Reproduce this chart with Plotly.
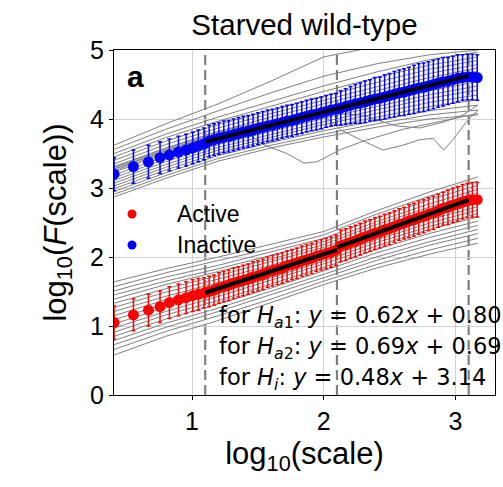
import plotly.graph_objects as go

# ---------------- data ----------------
x_scale = [0.408, 0.555, 0.669, 0.757, 0.828, 0.897, 0.955, 1.005, 1.048, 1.091,
           1.130, 1.167, 1.204, 1.241, 1.278, 1.315, 1.352, 1.389, 1.426, 1.463,
           1.500, 1.537, 1.574, 1.611, 1.648, 1.685, 1.722, 1.759, 1.796, 1.833,
           1.870, 1.907, 1.944, 1.981, 2.018, 2.055, 2.092, 2.129, 2.166, 2.203,
           2.240, 2.277, 2.314, 2.351, 2.388, 2.425, 2.462, 2.499, 2.536, 2.573,
           2.610, 2.647, 2.684, 2.721, 2.758, 2.795, 2.832, 2.869, 2.906, 2.943,
           2.980, 3.017, 3.054, 3.091, 3.128, 3.165]

inactive_mean = [3.20, 3.31, 3.38, 3.44, 3.48, 3.52, 3.55, 3.58, 3.61, 3.64,
                 3.68, 3.70, 3.72, 3.74, 3.75, 3.77, 3.79, 3.81, 3.82, 3.84,
                 3.86, 3.88, 3.90, 3.91, 3.93, 3.95, 3.97, 3.98, 4.00, 4.02,
                 4.04, 4.06, 4.07, 4.09, 4.11, 4.13, 4.14, 4.16, 4.18, 4.20,
                 4.22, 4.23, 4.25, 4.27, 4.29, 4.30, 4.32, 4.34, 4.36, 4.38,
                 4.39, 4.41, 4.43, 4.45, 4.46, 4.48, 4.50, 4.52, 4.54, 4.55,
                 4.57, 4.59, 4.60, 4.61, 4.61, 4.60]
inactive_err = [0.24, 0.24, 0.24, 0.23, 0.23, 0.23, 0.23, 0.23, 0.23, 0.23,
                0.23, 0.23, 0.23, 0.23, 0.23, 0.23, 0.23, 0.23, 0.23, 0.23,
                0.23, 0.23, 0.23, 0.23, 0.23, 0.23, 0.23, 0.23, 0.23, 0.23,
                0.23, 0.23, 0.23, 0.23, 0.23, 0.23, 0.23, 0.25, 0.26, 0.27,
                0.28, 0.29, 0.30, 0.30, 0.31, 0.31, 0.32, 0.32, 0.33, 0.33,
                0.34, 0.34, 0.35, 0.35, 0.35, 0.35, 0.35, 0.35, 0.35, 0.34,
                0.34, 0.34, 0.33, 0.33, 0.33, 0.33]

active_mean = [1.05, 1.16, 1.23, 1.28, 1.34, 1.38, 1.41, 1.44, 1.46, 1.48,
               1.50, 1.52, 1.55, 1.57, 1.59, 1.62, 1.64, 1.66, 1.68, 1.71,
               1.73, 1.75, 1.78, 1.80, 1.82, 1.84, 1.87, 1.89, 1.91, 1.94,
               1.96, 1.98, 2.01, 2.03, 2.05, 2.07, 2.10, 2.16, 2.18, 2.21,
               2.23, 2.26, 2.29, 2.31, 2.34, 2.36, 2.39, 2.41, 2.44, 2.47,
               2.49, 2.52, 2.54, 2.57, 2.59, 2.62, 2.64, 2.67, 2.70, 2.72,
               2.75, 2.77, 2.80, 2.82, 2.83, 2.83]
active_err = [0.24, 0.23, 0.23, 0.23, 0.23, 0.23, 0.23, 0.23, 0.23, 0.22,
              0.22, 0.22, 0.22, 0.22, 0.22, 0.22, 0.22, 0.22, 0.22, 0.22,
              0.22, 0.22, 0.22, 0.22, 0.22, 0.22, 0.22, 0.22, 0.22, 0.22,
              0.22, 0.22, 0.22, 0.22, 0.22, 0.22, 0.22, 0.23, 0.23, 0.23,
              0.23, 0.23, 0.23, 0.23, 0.23, 0.23, 0.23, 0.23, 0.23, 0.23,
              0.23, 0.24, 0.24, 0.24, 0.24, 0.24, 0.24, 0.24, 0.24, 0.25,
              0.25, 0.25, 0.25, 0.25, 0.25, 0.25]

# individual recordings (grey curves)
gray_x = [0.408, 0.8, 1.2, 1.6, 2.0, 2.4, 2.8, 3.17]
active_curves = [
    [1.64, 1.83, 2.00, 2.18, 2.37, 2.67, 2.94, 3.16],
    [1.57, 1.77, 1.95, 2.12, 2.32, 2.62, 2.88, 3.10],
    [1.51, 1.71, 1.88, 2.08, 2.27, 2.56, 2.83, 3.04],
    [1.45, 1.65, 1.83, 2.02, 2.22, 2.51, 2.77, 2.98],
    [1.39, 1.60, 1.79, 1.97, 2.18, 2.47, 2.72, 2.93],
    [1.33, 1.54, 1.73, 1.93, 2.14, 2.43, 2.68, 2.88],
    [1.27, 1.49, 1.68, 1.88, 2.10, 2.38, 2.63, 2.83],
    [1.21, 1.43, 1.63, 1.85, 2.06, 2.34, 2.58, 2.78],
    [1.15, 1.38, 1.58, 1.79, 2.02, 2.29, 2.54, 2.73],
    [1.09, 1.32, 1.54, 1.75, 1.98, 2.25, 2.49, 2.68],
    [1.03, 1.27, 1.48, 1.70, 1.94, 2.21, 2.44, 2.63],
    [0.97, 1.21, 1.43, 1.66, 1.90, 2.16, 2.40, 2.58],
    [0.91, 1.16, 1.37, 1.61, 1.85, 2.11, 2.34, 2.52],
    [0.85, 1.10, 1.32, 1.55, 1.80, 2.06, 2.28, 2.46],
    [0.79, 1.04, 1.26, 1.50, 1.75, 2.00, 2.22, 2.40],
    [0.73, 0.98, 1.21, 1.45, 1.70, 1.95, 2.17, 2.34],
    [0.66, 0.92, 1.15, 1.39, 1.65, 1.89, 2.10, 2.27],
    [0.58, 0.85, 1.08, 1.34, 1.60, 1.84, 2.04, 2.20],
]
inactive_curves = [
    [3.62, 3.93, 4.22, 4.55, 4.90, 5.05, 5.10, 5.10],
    [3.56, 3.85, 4.12, 4.38, 4.62, 4.80, 4.93, 5.00],
    [3.50, 3.78, 4.03, 4.26, 4.48, 4.68, 4.86, 4.97],
    [3.45, 3.73, 3.97, 4.19, 4.40, 4.60, 4.78, 4.90],
    [3.40, 3.68, 3.92, 4.13, 4.33, 4.53, 4.72, 4.85],
    [3.35, 3.63, 3.87, 4.08, 4.27, 4.47, 4.66, 4.79],
    [3.31, 3.58, 3.82, 4.03, 4.22, 4.41, 4.60, 4.74],
    [3.27, 3.54, 3.78, 3.98, 4.17, 4.36, 4.55, 4.69],
    [3.23, 3.50, 3.75, 3.94, 4.13, 4.32, 4.50, 4.64],
    [3.19, 3.46, 3.71, 3.90, 4.09, 4.28, 4.46, 4.59],
    [3.15, 3.42, 3.67, 3.86, 4.05, 4.23, 4.41, 4.54],
    [3.11, 3.38, 3.63, 3.82, 4.01, 4.18, 4.35, 4.48],
    [3.07, 3.34, 3.59, 3.78, 3.96, 4.13, 4.30, 4.42],
    [3.03, 3.30, 3.55, 3.74, 3.92, 4.08, 4.24, 4.35],
    [2.99, 3.26, 3.51, 3.70, 3.87, 4.03, 4.18, 4.28],
    [2.95, 3.22, 3.47, 3.66, 3.83, 3.98, 4.12, 4.20],
    [2.91, 3.18, 3.43, 3.62, 3.78, 3.93, 4.06, 4.13],
    [2.87, 3.14, 3.39, 3.58, 3.74, 3.88, 4.00, 4.06],
]
outlier1_x = [0.408, 0.8, 1.2, 1.4, 1.55, 1.72, 1.85, 1.95, 2.12, 2.3, 2.6, 2.9, 3.17]
outlier1_y = [3.25, 3.52, 3.78, 3.82, 3.62, 3.50, 3.36, 3.38, 3.55, 3.68, 3.85, 3.97, 4.08]
outlier2_x = [0.408, 0.8, 1.2, 1.6, 2.0, 2.13, 2.3, 2.45, 2.6, 2.73, 2.83, 2.91, 2.98, 3.08, 3.17]
outlier2_y = [3.30, 3.57, 3.82, 3.98, 4.05, 3.84, 3.68, 3.55, 3.62, 3.70, 3.72, 3.55, 3.70, 3.95, 4.13]
outlier3_x = [0.408, 0.8, 1.2, 1.6, 2.0, 2.3, 2.55, 2.73, 2.9, 3.05, 3.17]
outlier3_y = [3.28, 3.55, 3.80, 3.97, 4.10, 4.05, 3.90, 3.87, 3.95, 4.05, 4.20]

# linear fits: (slope, intercept, x_start, x_end)
fit_Ha1 = (0.62, 0.80, 1.1, 2.1)
fit_Ha2 = (0.69, 0.69, 2.1, 3.1)
fit_Hi = (0.48, 3.14, 1.1, 3.1)
boundaries = [1.1, 2.1, 3.1]

legend_names = ["Active", "Inactive"]
legend_colors = ["#ff0000", "#0000ff"]

x_ticks = [1, 2, 3]
y_ticks = [0, 1, 2, 3, 4, 5]

# ---------------- figure ----------------
L, R, T, B = 114, 8, 50, 92
W, H = 503, 487
PW, PH = W - L - R, H - T - B


def px_to_paper_x(px):
    return (px - L) / PW


def px_to_paper_y(py):
    return (H - B - py) / PH


fig = go.Figure()
GRAY = "#808080"
for yy in active_curves + inactive_curves:
    fig.add_trace(go.Scatter(x=gray_x, y=yy, mode="lines",
                             line=dict(color=GRAY, width=1), showlegend=False,
                             hoverinfo="skip"))
for ox, oy in [(outlier1_x, outlier1_y), (outlier2_x, outlier2_y), (outlier3_x, outlier3_y)]:
    fig.add_trace(go.Scatter(x=ox, y=oy, mode="lines",
                             line=dict(color=GRAY, width=1), showlegend=False,
                             hoverinfo="skip"))

for name, ymean, yerr, col in [("Active", active_mean, active_err, legend_colors[0]),
                               ("Inactive", inactive_mean, inactive_err, legend_colors[1])]:
    fig.add_trace(go.Scatter(
        x=x_scale, y=ymean, mode="markers", name=name,
        marker=dict(color=col, size=11, line=dict(width=0)),
        error_y=dict(type="data", array=yerr, visible=True, color=col,
                     thickness=1.5, width=2),
        showlegend=False))

for a, b, x0, x1 in [fit_Ha1, fit_Ha2, fit_Hi]:
    fig.add_trace(go.Scatter(x=[x0, x1], y=[a * x0 + b, a * x1 + b], mode="lines",
                             line=dict(color="black", width=4), showlegend=False))

for bx in boundaries:
    fig.add_shape(type="line", xref="x", yref="paper", x0=bx, x1=bx, y0=0, y1=1,
                  line=dict(color="#7f7f7f", width=2.2, dash="10px,5px"),
                  layer="between")

# legend (dots + labels)
legend_rows_px = [214, 245]
for name, col, py in zip(legend_names, legend_colors, legend_rows_px):
    fig.add_shape(type="circle", xref="paper", yref="paper",
                  xsizemode="pixel", ysizemode="pixel",
                  xanchor=px_to_paper_x(132), yanchor=px_to_paper_y(py),
                  x0=-4.5, x1=4.5, y0=-4.5, y1=4.5,
                  fillcolor=col, line=dict(width=0), layer="above")
    fig.add_annotation(text=name, xref="paper", yref="paper",
                       x=px_to_paper_x(175), y=px_to_paper_y(py),
                       xanchor="left", yanchor="middle", showarrow=False,
                       font=dict(family="Liberation Sans, Arial", size=23, color="black"))

annots = [
    ("for <i>H</i><sub><i>a</i>1</sub>: <i>y</i> = 0.62<i>x</i> + 0.80", 317),
    ("for <i>H</i><sub><i>a</i>2</sub>: <i>y</i> = 0.69<i>x</i> + 0.69", 348),
    ("for <i>H</i><sub><i>i</i></sub>: <i>y</i> = 0.48<i>x</i> + 3.14", 379),
]
for txt, py in annots:
    fig.add_annotation(text=txt, xref="paper", yref="paper", x=px_to_paper_x(217),
                       y=px_to_paper_y(py),
                       xanchor="left", yanchor="middle", showarrow=False,
                       font=dict(family="DejaVu Sans", size=22.5, color="black"))

fig.add_annotation(text="<b>a</b>", xref="paper", yref="paper", x=px_to_paper_x(125),
                   y=px_to_paper_y(76),
                   xanchor="left", yanchor="middle", showarrow=False,
                   font=dict(family="Liberation Sans, Arial", size=30, color="black"))

axis_common = dict(showline=True, linecolor="black", linewidth=1.2, mirror=True,
                   ticks="outside", ticklen=4, tickwidth=1, tickcolor="black",
                   showgrid=True, gridcolor="#d3d3d3", gridwidth=1, zeroline=False,
                   automargin=False,
                   tickfont=dict(family="Liberation Sans, Arial", size=25, color="black"))

fig.update_layout(
    width=W, height=H,
    margin=dict(l=L, r=R, t=T, b=B),
    plot_bgcolor="white", paper_bgcolor="white",
    showlegend=False,
    title=dict(text="Starved wild-type", x=0.5, xref="paper", xanchor="center",
               y=1 - 25 / H, yanchor="middle",
               font=dict(family="Liberation Sans, Arial", size=29.5, color="black")),
    xaxis=dict(range=[0.4075, 3.30], tickvals=x_ticks,
               title=dict(text="log<sub>10</sub>(scale)", standoff=8,
                          font=dict(family="Liberation Sans, Arial", size=31, color="black")),
               **axis_common),
    yaxis=dict(range=[0, 5], tickvals=y_ticks,
               title=dict(text="log<sub>10</sub>(<i>F</i>(scale))", standoff=14,
                          font=dict(family="Liberation Sans, Arial", size=31, color="black")),
               **axis_common),
    font=dict(family="Liberation Sans, Arial"),
)

fig.write_html("out.html", config={"displayModeBar": False},
               post_script="document.body.style.margin='0';document.body.style.padding='0';")
